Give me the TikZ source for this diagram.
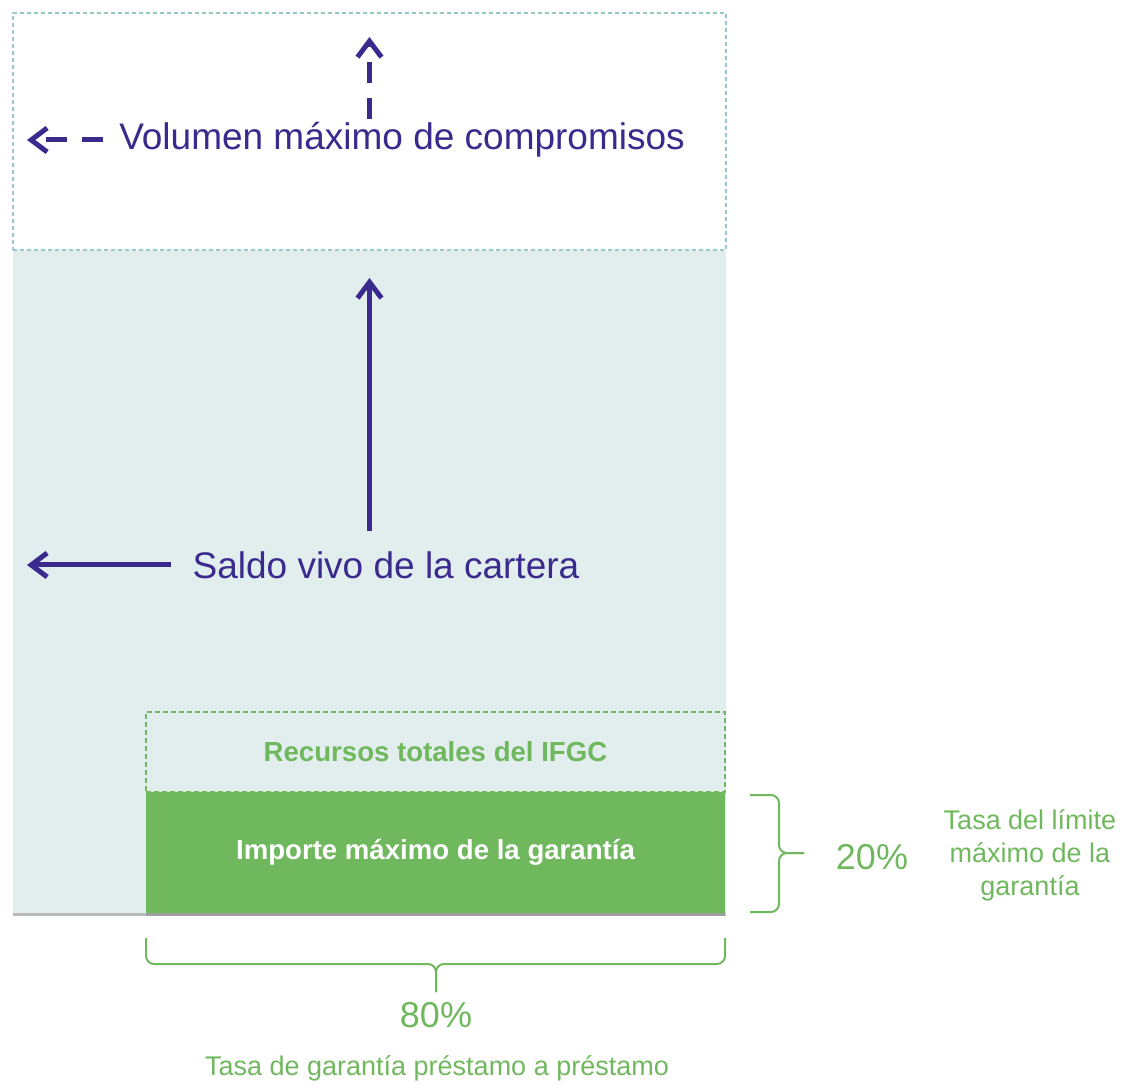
\documentclass[tikz,border=0pt]{standalone}
\usepackage{fontspec}
\setmainfont{Liberation Sans}
\usetikzlibrary{arrows.meta,positioning,shadows}
\definecolor{indigo}{RGB}{58,42,142}
\definecolor{leafgreen}{RGB}{112,184,94}
\definecolor{paleteal}{RGB}{226,238,238}
\definecolor{tealline}{RGB}{150,200,204}

\begin{document}
\begin{tikzpicture}[x=0.5pt,y=-0.5pt,
  every node/.style={inner sep=0pt,outer sep=0pt},
  bigtxt/.style={text=indigo,font=\fontsize{18.5}{22}\selectfont},
  boxtxt/.style={font=\bfseries\fontsize{13.8}{16}\selectfont},
  pct/.style={text=leafgreen,font=\fontsize{18}{22}\selectfont},
  note/.style={text=leafgreen,font=\fontsize{13.5}{16.5}\selectfont,align=center},
  softshadow/.style={drop shadow={shadow xshift=0pt,shadow yshift=-1.5pt,fill=black!45,opacity=0.6}},
  cartbox/.style={rectangle,fill=paleteal,softshadow,minimum width=356.5pt,minimum height=331.5pt},
  volframe/.style={rectangle,draw=tealline,line width=0.6pt,dash pattern=on 2pt off 1.5pt,minimum width=356.5pt,minimum height=118.5pt},
  recframe/.style={rectangle,draw=leafgreen,line width=0.8pt,dash pattern=on 2.5pt off 1.5pt,text=leafgreen,minimum width=289.5pt,minimum height=40pt},
  impbox/.style={rectangle,fill=leafgreen,softshadow,text=white,minimum width=289.5pt,minimum height=60.5pt},
  vec/.style={draw=indigo,line width=2.5pt,-{Straight Barb[length=8pt,width=12pt]}},
  vecdash/.style={vec,dash pattern=on 10.5pt off 7.5pt},
  brace/.style={draw=leafgreen,line width=1pt,rounded corners=4pt}
]
\useasboundingbox (0,0) rectangle (1126,1091);
% boxes
\node[cartbox] (cartera) at (369.5,581.5) {};
\node[volframe] (volbox) at (369.5,131.5) {};
\node[recframe,boxtxt] (recursos) at (435.5,752) {Recursos totales del IFGC};
\node[impbox,boxtxt] (importe) at (435.5,852.5) {Importe máximo de la garantía};
% labels
\node[bigtxt] (vol) at (402,140) {Volumen máximo de compromisos};
\node[bigtxt] (saldo) at (386,565) {Saldo vivo de la cartera};
\node[pct] (p20) at (872,857) {20\%};
\node[note] (tasalim) at (1030,855) {Tasa del límite\\máximo de la\\garantía};
\node[pct] (p80) at (436,1015) {80\%};
\node[note] (tasapre) at (437,1068) {Tasa de garantía préstamo a préstamo};
% arrow ends
\coordinate (volup) at (369.5,119);
\coordinate (voltop) at (369.5,37);
\coordinate (volleft) at (103,140);
\coordinate (volend) at (27,140);
\coordinate (saldoup) at (369.5,531);
\coordinate (saldotop) at (369.5,278);
\coordinate (saldoleft) at (171,565);
\coordinate (saldoend) at (27,565);
\draw[vecdash] (volup) -- (voltop);
\draw[vecdash] (volleft) -- (volend);
\draw[vec] (saldoup) -- (saldotop);
\draw[vec] (saldoleft) -- (saldoend);
% braces
\coordinate (rtip) at (804,853);
\coordinate (btip) at (436,992);
\draw[brace] (750,795) -| (779,853) -- (rtip);
\draw[brace] (750,912) -| (779,853) -- (rtip);
\draw[brace] (146,938) |- (436,964) -- (btip);
\draw[brace] (725,938) |- (436,964) -- (btip);
\end{tikzpicture}
\end{document}
